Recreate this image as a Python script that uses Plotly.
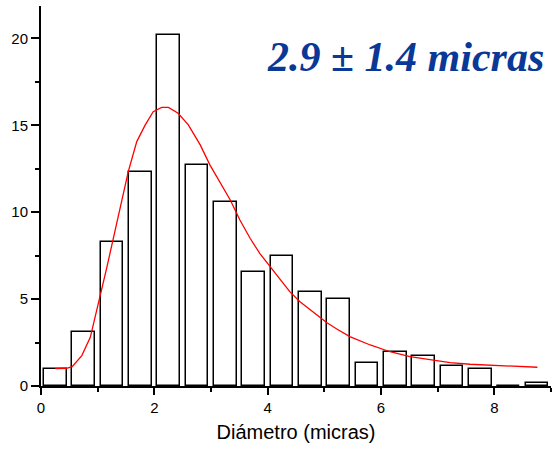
import plotly.graph_objects as go

# Histogram of particle diameters (bins of 0.5 micras)
bin_centers = [0.25, 0.75, 1.25, 1.75, 2.25, 2.75, 3.25, 3.75, 4.25,
               4.75, 5.25, 5.75, 6.25, 6.75, 7.25, 7.75, 8.25, 8.75]
counts = [1.0, 3.1, 8.3, 12.3, 20.2, 12.7, 10.6, 6.55, 7.5,
          5.4, 5.0, 1.35, 1.95, 1.75, 1.15, 0.95, 0.0, 0.2]

# Fitted distribution curve
fit_x = [0.25, 0.45, 0.55, 0.62, 0.72, 0.87, 1.03, 1.16, 1.25, 1.39, 1.54,
         1.69, 1.84, 1.98, 2.13, 2.25, 2.42, 2.60, 2.81, 2.98, 3.16, 3.34,
         3.51, 3.69, 3.86, 4.04, 4.22, 4.39, 4.57, 4.80, 5.04, 5.22, 5.45,
         5.81, 6.16, 6.51, 6.86, 7.22, 7.57, 7.92, 8.27, 8.76]
fit_y = [1.0, 1.02, 1.11, 1.35, 1.75, 2.8, 4.95, 6.8, 8.1, 10.22, 12.33,
         14.06, 15.02, 15.78, 16.03, 16.03, 15.69, 15.02, 13.87, 12.72, 11.7,
         10.7, 9.55, 8.5, 7.63, 6.87, 6.1, 5.43, 4.85, 4.28, 3.65, 3.28, 2.84,
         2.36, 1.97, 1.69, 1.5, 1.34, 1.25, 1.19, 1.13, 1.08]

x_ticks = [0, 2, 4, 6, 8]
y_ticks = [0, 5, 10, 15, 20]
label_text = "2.9 ± 1.4 micras"
x_title = "Diámetro (micras)"

fig = go.Figure()
fig.add_trace(go.Bar(
    x=bin_centers, y=counts, width=0.4,
    marker=dict(color="white", line=dict(color="black", width=1.5)),
    showlegend=False, hoverinfo="skip",
))
fig.add_trace(go.Scatter(
    x=fit_x, y=fit_y, mode="lines",
    line=dict(color="#ff0000", width=1.3),
    showlegend=False, hoverinfo="skip",
))

fig.add_annotation(
    text=label_text, xref="paper", yref="paper",
    x=0.99, y=0.865, xanchor="right", yanchor="middle",
    showarrow=False,
    font=dict(family="Liberation Serif", size=42, color="#0a3896",
              weight="bold", style="italic"),
)

tick_font = dict(family="Liberation Sans, Arial", size=15, color="black")

fig.update_xaxes(
    range=[0, 9], tickvals=x_ticks, ticks="outside", ticklen=7,
    tickwidth=1.5, tickcolor="black",
    showline=True, linecolor="black", linewidth=2,
    showgrid=False, zeroline=False, tickfont=tick_font,
    minor=dict(dtick=1, tick0=0, ticks="outside", ticklen=4,
               tickwidth=1.5, tickcolor="black", showgrid=False),
    title=dict(text=x_title, font=dict(family="Liberation Sans, Arial",
                                       size=20, color="black"), standoff=10),
)
fig.update_yaxes(
    range=[0, 21.86], tickvals=y_ticks, ticks="outside", ticklen=8,
    tickwidth=1.5, tickcolor="black",
    showline=True, linecolor="black", linewidth=2,
    showgrid=False, zeroline=False, tickfont=tick_font,
    minor=dict(dtick=2.5, tick0=0, ticks="outside", ticklen=4,
               tickwidth=1.5, tickcolor="black", showgrid=False),
)

fig.update_layout(
    width=555, height=450,
    margin=dict(l=41, r=4, t=6, b=64),
    plot_bgcolor="white", paper_bgcolor="white",
    bargap=0,
)

fig.write_html("out.html")
